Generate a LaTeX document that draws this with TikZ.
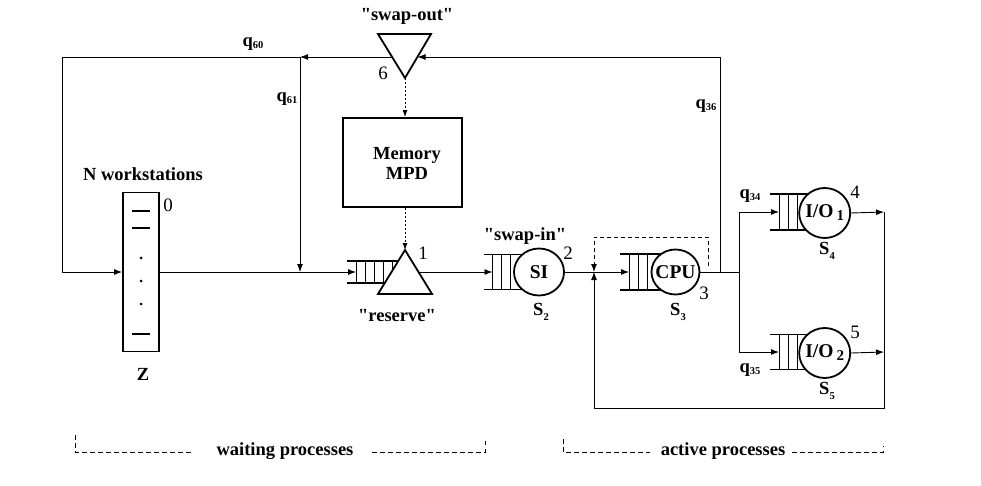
\documentclass[tikz,border=0pt]{standalone}
\usepackage{fontspec}
\setmainfont{Liberation Serif}[Ligatures=TeXOff]
\usetikzlibrary{arrows.meta,shapes.geometric}
\newcommand\mkqueue[6]{%
  \coordinate (#1in) at (#2+9,#3);
  \draw[line width=1.8pt] (#2,#3-#4) -- (#5,#3-#4) (#2,#3+#4) -- (#5,#3+#4);
  \foreach \k in {1,...,#6} \draw[line width=0.8pt] (#2+9*\k,#3-#4) -- (#2+9*\k,#3+#4);
}
\newcommand\qlab[1]{q\raisebox{-2pt}{\fontsize{10.5}{10}\selectfont #1}}
\newcommand\slab[1]{S\raisebox{-5pt}{\fontsize{10.5}{10}\selectfont #1}}
\newcommand\iolab[1]{I/O\,\raisebox{-3pt}{\fontsize{15}{15}\selectfont #1}}
\begin{document}
\begin{tikzpicture}[x=1pt,y=-1pt,
  conn/.style={line width=0.9pt},
  arr/.style={conn,-{Latex[length=8pt,width=6pt]}},
  lbl/.style={font=\bfseries\fontsize{18.5}{20}\selectfont, inner sep=0pt},
  num/.style={font=\fontsize{19}{21}\selectfont, inner sep=0pt},
  srv/.style={ellipse, draw, line width=1.8pt, fill=white, inner sep=0pt,
              label={[font=\bfseries\fontsize{19.5}{20}\selectfont, inner sep=0pt]center:#1}},
  dotl/.style={line width=0.9pt, dash pattern=on 2pt off 2pt},
  dashl/.style={line width=0.9pt, dash pattern=on 4pt off 3pt},
  brk/.style={line width=0.8pt, dash pattern=on 4.5pt off 3.5pt},
]
\useasboundingbox (0,0) rectangle (981,486);

% coordinates
\coordinate (soR) at (417.5,57);
\coordinate (soL) at (391.5,57);
\coordinate (soA) at (405,78);
\coordinate (resA) at (405,250);
\coordinate (resR) at (418,272);
\coordinate (j60) at (300,57);
\coordinate (j61) at (300,272);
\coordinate (c60) at (62,57);
\coordinate (c0) at (62,272);
\coordinate (c36) at (720,57);
\coordinate (j36) at (720,272);
\coordinate (jn) at (594,272);
\coordinate (br) at (739,272);
\coordinate (br1) at (739,212);
\coordinate (br2) at (739,352);
\coordinate (o1) at (884,212);
\coordinate (o2) at (884,352);
\coordinate (cb1) at (884,408);
\coordinate (cb2) at (594,408);
\coordinate (dsA) at (708,266);
\coordinate (dsB) at (708,237);
\coordinate (dsC) at (594,237);

% workstations
\node[draw, line width=1.8pt, minimum width=36pt, minimum height=159pt, inner sep=0pt] (ws) at (141,272) {};
\foreach \yy in {211,228,334} \draw[line width=2pt] (132,\yy) -- (150,\yy);
\foreach \yy in {258,281,304} \fill (141,\yy) circle (1.5pt);

% memory
\node[draw, line width=1.8pt, minimum width=119pt, minimum height=89pt] (mem) at (402.5,162.5) {};
\node[lbl, align=center] (memtxt) at (407,163) {Memory\\MPD};

% swap-out triangle
\draw[line width=1.8pt] (378,34) -- (431,34) -- (405,78) -- cycle;

% queues and servers
\mkqueue{qres}{347}{272}{11}{400}{5}
\draw[line width=1.8pt, fill=white] (resA) -- (432,294) -- (378,294) -- cycle;
\mkqueue{qsi}{483.5}{272}{17.5}{535}{3}
\node[srv=SI, minimum width=50pt, minimum height=47pt] (si) at (539,272) {};
\mkqueue{qcpu}{620}{272}{18}{670}{3}
\node[srv=CPU, minimum width=48pt, minimum height=45pt] (cpu) at (675.5,272) {};
\mkqueue{qio1}{770}{212}{18}{820}{3}
\node[srv={\iolab{1}}, minimum width=51pt, minimum height=50pt] (io1) at (824.7,213) {};
\mkqueue{qio2}{770}{352}{17.5}{820}{3}
\node[srv={\iolab{2}}, minimum width=51pt, minimum height=50pt] (io2) at (824.7,353) {};

% connectors
\draw[arr] (ws.east) -- (qresin);
\draw[arr] (resR) -- (qsiin);
\draw[conn] (si.east) -- (jn);
\draw[arr] (jn) -- (qcpuin);
\draw[conn] (cpu.east) -- (br);
\draw[arr] (j36) -- (c36) -- (soR);
\draw[arr] (soL) -- (j60);
\draw[arr] (j60) -- (c60) -- (c0) -- (ws.west);
\draw[arr] (j60) -- (j61);
\draw[conn] (br1) -- (br2);
\draw[arr] (br1) -- (qio1in);
\draw[arr] (br2) -- (qio2in);
\draw[arr] (io1.east) -- (o1);
\draw[arr] (io2.east) -- (o2);
\draw[arr] (o1) -- (cb1) -- (cb2) -- (jn);
\draw[dashl, -{Latex[length=8pt,width=6pt]}] (dsA) -- (dsB) -- (dsC) -- (jn);
\draw[dotl, -{Latex[length=7pt,width=5pt]}] (soA) -- (soA |- mem.north);
\draw[dotl, -{Latex[length=7pt,width=5pt]}] (soA |- mem.south) -- (resA);

% labels
\node[lbl] (tso) at (407,16) {"swap-out"};
\node[num] (n6) at (383,73) {6};
\node[lbl] (q60) at (253,44) {\qlab{60}};
\node[lbl] (q61) at (287,99) {\qlab{61}};
\node[lbl] (tnw) at (143,174) {N workstations};
\node[num] (n0) at (168,205) {0};
\node[lbl] (tz) at (143,374) {Z};
\node[num] (n1) at (423,253) {1};
\node[lbl] (tres) at (397,316) {"reserve"};
\node[lbl] (tsi) at (525,236) {"swap-in"};
\node[num] (n2) at (568,253) {2};
\node[lbl] (s2) at (541,312) {\slab{2}};
\node[num] (n3) at (704,293) {3};
\node[lbl] (s3) at (678,312) {\slab{3}};
\node[lbl] (q34) at (750,196) {\qlab{34}};
\node[num] (n4) at (855,192) {4};
\node[lbl] (s4) at (827,251) {\slab{4}};
\node[lbl] (q35) at (750,370) {\qlab{35}};
\node[num] (n5) at (855,332) {5};
\node[lbl] (s5) at (827,391) {\slab{5}};
\node[lbl] (q36) at (706,106) {\qlab{36}};

% brackets
\node[lbl] (wait) at (285,451) {waiting processes};
\node[lbl] (act) at (723,451) {active processes};
\draw[brk] (75,435) -- (75,452) -- (194,452);
\draw[brk] (372,452) -- (485,452) -- (485,440);
\draw[brk] (563,439) -- (563,452) -- (650,452);
\draw[brk] (792,452) -- (883,452) -- (883,446);
\end{tikzpicture}
\end{document}
